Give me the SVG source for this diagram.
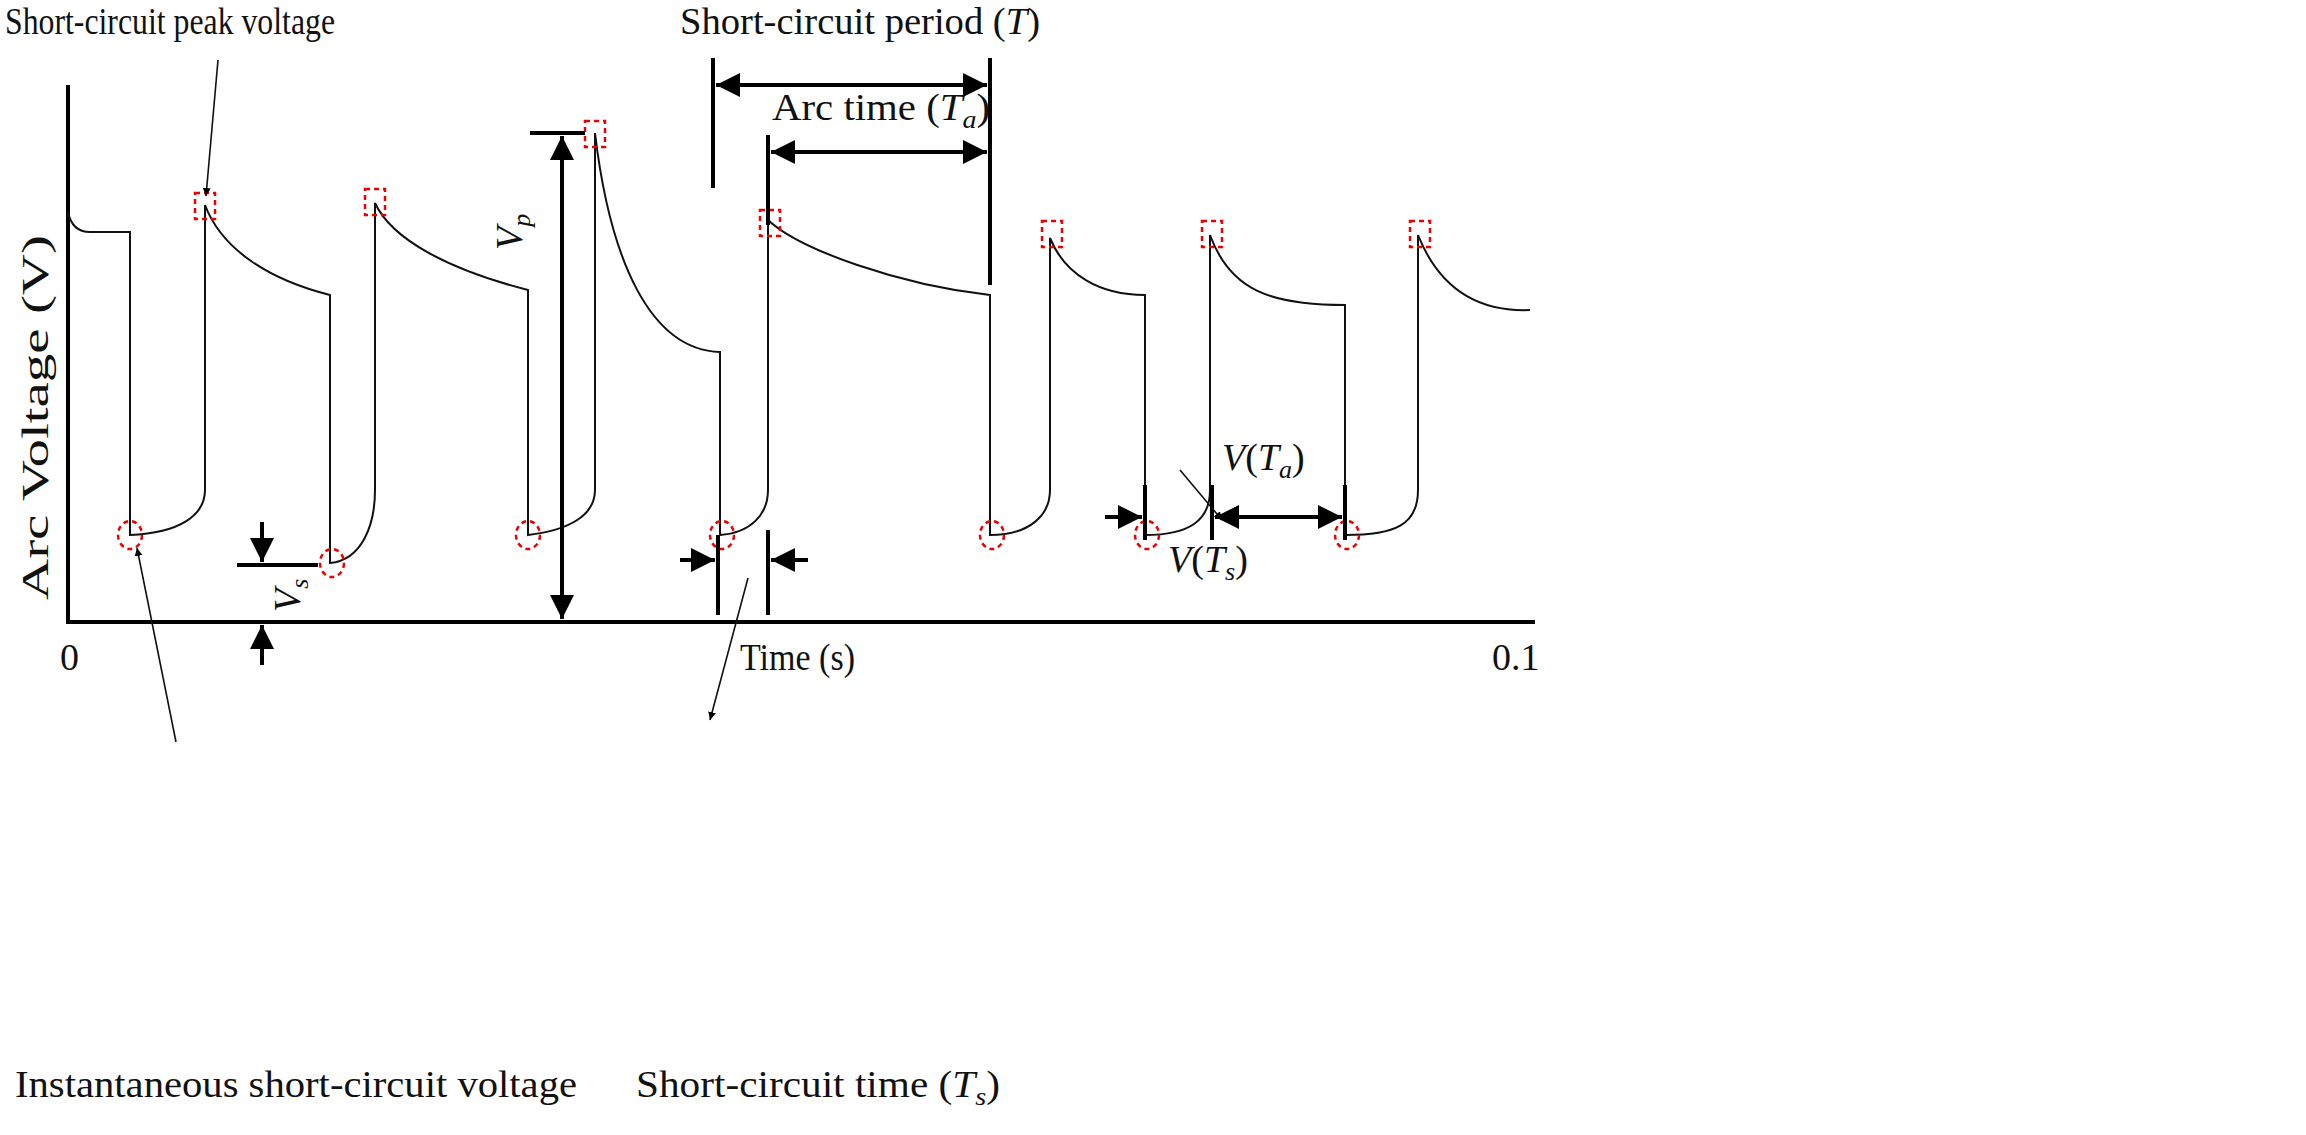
<svg xmlns="http://www.w3.org/2000/svg" width="2306" height="1135" viewBox="0 0 2306 1135">
<defs>
<marker id="ah" viewBox="0 0 10 10" refX="10" refY="5" markerWidth="8" markerHeight="8" markerUnits="userSpaceOnUse" orient="auto-start-reverse"><path d="M0,0 L10,5 L0,10 z" fill="#000"/></marker>
<marker id="big" viewBox="0 0 10 10" refX="10" refY="5" markerWidth="7" markerHeight="6" orient="auto-start-reverse"><path d="M0,0 L10,5 L0,10 z" fill="#000"/></marker>
<style>
.t{font-family:"Liberation Serif",serif;font-size:38px;fill:#111}
.i{font-style:italic}
.w{fill:none;stroke:#111;stroke-width:2}
.k{stroke:#000;stroke-width:4;fill:none}
.ln{stroke:#111;stroke-width:1.6;fill:none}
.rs{fill:none;stroke:#e00;stroke-width:2.5;stroke-dasharray:5,4}
</style>
</defs>
<rect width="2306" height="1135" fill="#fff"/>
<g id="axes">
<path d="M68,85 V622 H1535" class="k" stroke-width="3"/>
<text class="t" x="60" y="670">0</text>
<text class="t" x="1492" y="670">0.1</text>
<text class="t" x="740" y="670" textLength="115" lengthAdjust="spacingAndGlyphs">Time (s)</text>
<text class="t" transform="translate(48,600) rotate(-90)" textLength="365" lengthAdjust="spacingAndGlyphs">Arc Voltage (V)</text>
</g>
<g id="waveform">
<path class="w" d="M68,212 Q72,232 90,232 L130,232 L130,535 C180,533 205,515 205,490 L205,205 C222,250 270,280 330,295 L330,563 C362,560 375,525 375,490 L375,203 C392,240 450,270 528,290 L528,535 C570,530 595,515 595,490 L595,133 C610,260 650,350 720,352 L720,535 C750,533 768,515 768,490 L768,220 C800,250 900,285 990,295 L990,535 C1030,535 1050,515 1050,490 L1050,238 C1065,275 1100,295 1145,295 L1145,535 C1190,535 1210,520 1210,490 L1210,235 C1230,290 1270,305 1345,305 L1345,535 C1395,535 1418,525 1418,490 L1418,235 C1440,290 1480,312 1530,310"/>
</g>
<g id="markers">
<rect class="rs" x="195" y="193" width="20" height="26"/>
<rect class="rs" x="365" y="189" width="20" height="26"/>
<rect class="rs" x="585" y="121" width="20" height="26"/>
<rect class="rs" x="760" y="210" width="20" height="26"/>
<rect class="rs" x="1042" y="221" width="20" height="26"/>
<rect class="rs" x="1202" y="221" width="20" height="26"/>
<rect class="rs" x="1410" y="221" width="20" height="26"/>
<ellipse class="rs" cx="130" cy="535" rx="12" ry="14"/>
<ellipse class="rs" cx="332" cy="563" rx="12" ry="14"/>
<ellipse class="rs" cx="528" cy="535" rx="12" ry="14"/>
<ellipse class="rs" cx="722" cy="535" rx="12" ry="14"/>
<ellipse class="rs" cx="992" cy="535" rx="12" ry="14"/>
<ellipse class="rs" cx="1147" cy="535" rx="12" ry="14"/>
<ellipse class="rs" cx="1347" cy="535" rx="12" ry="14"/>
</g>
<g id="connectors">
<path class="k" d="M713,58 V188 M990,58 V285 M768,135 V225"/>
<path class="k" d="M716,85 H987" marker-start="url(#big)" marker-end="url(#big)"/>
<path class="k" d="M771,152 H987" marker-start="url(#big)" marker-end="url(#big)"/>
<path class="k" d="M530,133 H585 M530,622 H585"/>
<path class="k" d="M562,136 V619" marker-start="url(#big)" marker-end="url(#big)"/>
<path class="k" d="M237,565 H318 M237,622 H318"/>
<path class="k" d="M262,522 V562" marker-end="url(#big)"/>
<path class="k" d="M262,665 V625" marker-end="url(#big)"/>
<path class="k" d="M718,535 V615 M768,530 V615"/>
<path class="k" d="M680,560 H715" marker-end="url(#big)"/>
<path class="k" d="M808,560 H771" marker-end="url(#big)"/>
<path class="k" d="M1145,485 V540 M1212,485 V540 M1345,485 V540"/>
<path class="k" d="M1105,517 H1142" marker-end="url(#big)"/>
<path class="k" d="M1215,517 H1342" marker-start="url(#big)" marker-end="url(#big)"/>
<path class="ln" d="M218,60 L206,196" marker-end="url(#ah)"/>
<path class="ln" d="M176,742 L137,548" marker-end="url(#ah)"/>
<path class="ln" d="M748,578 L710,720" marker-end="url(#ah)"/>
<path class="ln" d="M1180,470 L1222,520" marker-end="url(#ah)"/>
</g>
<g id="labels">
<text class="t" x="5" y="34" textLength="330" lengthAdjust="spacingAndGlyphs">Short-circuit peak voltage</text>
<text class="t" x="680" y="34" textLength="360" lengthAdjust="spacingAndGlyphs">Short-circuit period (<tspan class="i">T</tspan>)</text>
<text class="t" x="772" y="120" textLength="218" lengthAdjust="spacingAndGlyphs">Arc time (<tspan class="i">T</tspan><tspan class="i" font-size="26" dy="8">a</tspan><tspan dy="-8">)</tspan></text>
<text class="t i" transform="translate(522,250) rotate(-90)">V<tspan font-size="26" dy="8">p</tspan></text>
<text class="t i" transform="translate(300,612) rotate(-90)">V<tspan font-size="26" dy="8">s</tspan></text>
<text class="t" x="1222" y="470"><tspan class="i">V</tspan>(<tspan class="i">T</tspan><tspan class="i" font-size="26" dy="8">a</tspan><tspan dy="-8">)</tspan></text>
<text class="t" x="1168" y="572"><tspan class="i">V</tspan>(<tspan class="i">T</tspan><tspan class="i" font-size="26" dy="8">s</tspan><tspan dy="-8">)</tspan></text>
<text class="t" x="15" y="1097" textLength="562" lengthAdjust="spacingAndGlyphs">Instantaneous short-circuit voltage</text>
<text class="t" x="636" y="1097" textLength="364" lengthAdjust="spacingAndGlyphs">Short-circuit time (<tspan class="i">T</tspan><tspan class="i" font-size="26" dy="8">s</tspan><tspan dy="-8">)</tspan></text>
</g>
</svg>
